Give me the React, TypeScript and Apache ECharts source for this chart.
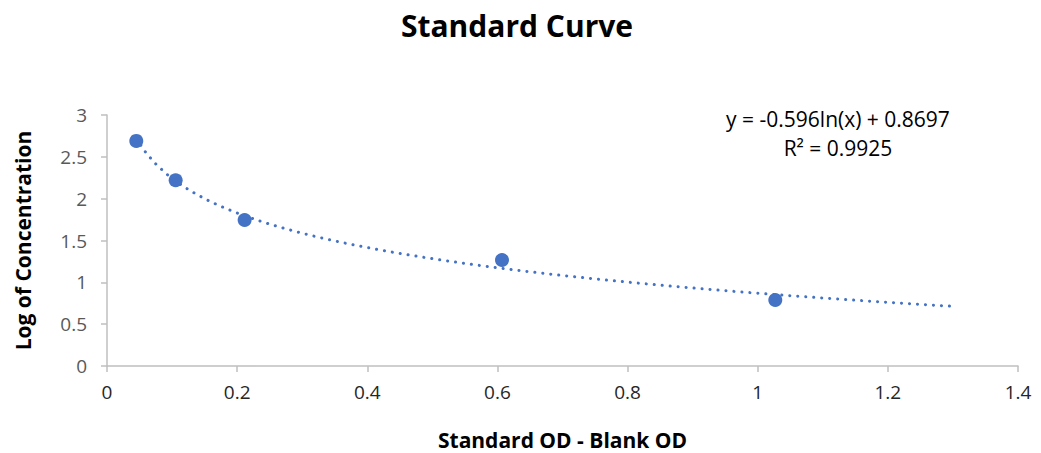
import React, { useEffect, useRef } from "react";
import * as echarts from "echarts";

// Standard OD minus blank OD, and log of concentration for each standard
const odValues = [0.045, 0.1055, 0.2115, 0.607, 1.027];
const logConc = [2.69, 2.22, 1.745, 1.267, 0.789];

// Logarithmic trendline: y = a ln(x) + b
const trendA = -0.596;
const trendB = 0.8697;
const trendStart = 0.045;
const trendEnd = 1.306;
const trendSteps = 80;

const xTicks = ["0", "0.2", "0.4", "0.6", "0.8", "1", "1.2", "1.4"];
const yTicks = ["0", "0.5", "1", "1.5", "2", "2.5", "3"];

const equationText = "y = -0.596ln(x) + 0.8697";
const rSquaredText = "R² = 0.9925";

const FONT = "'Open Sans', 'Noto Sans', sans-serif";
const BLUE = "#4472C4";

export default function App() {
  const ref = useRef<HTMLDivElement>(null);

  useEffect(() => {
    if (!ref.current) return;
    const chart = echarts.init(ref.current, undefined, { renderer: "svg" });

    const trend: number[][] = [];
    for (let i = 0; i <= trendSteps; i++) {
      const x = trendStart + ((trendEnd - trendStart) * i) / trendSteps;
      trend.push([x, trendA * Math.log(x) + trendB]);
    }

    chart.setOption({
      animation: false,
      backgroundColor: "#ffffff",
      title: {
        text: "Standard Curve",
        left: 512,
        top: 5,
        textAlign: "center",
        textStyle: { fontFamily: FONT, fontSize: 30, fontWeight: "bold", color: "#000000" },
      },
      grid: { left: 107, right: 23, top: 115, bottom: 87, outerBoundsMode: "none" },
      xAxis: {
        type: "value",
        min: 0,
        max: 1.4,
        interval: 0.2,
        name: "Standard OD - Blank OD",
        nameLocation: "middle",
        nameGap: 63,
        nameTextStyle: { fontFamily: FONT, fontSize: 21, fontWeight: "bold", color: "#000000" },
        axisLine: { lineStyle: { color: "#bfbfbf", width: 1.5 } },
        axisTick: { show: true, length: 6, lineStyle: { color: "#bfbfbf", width: 1.5 } },
        splitLine: { show: false },
        axisLabel: {
          fontFamily: FONT,
          fontSize: 19,
          color: "#262626",
          margin: 16,
          formatter: (v: number) => xTicks[Math.round(v / 0.2)] ?? "",
        },
      },
      yAxis: {
        type: "value",
        min: 0,
        max: 3,
        interval: 0.5,
        name: "Log of Concentration",
        nameLocation: "middle",
        nameGap: 74,
        nameTextStyle: { fontFamily: FONT, fontSize: 21, fontWeight: "bold", color: "#000000" },
        axisLine: { show: true, lineStyle: { color: "#bfbfbf", width: 1.5 } },
        axisTick: { show: true, length: 6, lineStyle: { color: "#bfbfbf", width: 1.5 } },
        splitLine: { show: false },
        axisLabel: {
          fontFamily: FONT,
          fontSize: 19,
          color: "#595959",
          margin: 20,
          formatter: (v: number) => yTicks[Math.round(v / 0.5)] ?? "",
        },
      },
      graphic: [
        {
          type: "text",
          x: 838,
          y: 119,
          style: {
            text: equationText,
            textAlign: "center",
            textVerticalAlign: "middle",
            fontFamily: FONT,
            fontSize: 21,
            fill: "#000000",
          },
        },
        {
          type: "text",
          x: 838,
          y: 148,
          style: {
            text: rSquaredText,
            textAlign: "center",
            textVerticalAlign: "middle",
            fontFamily: FONT,
            fontSize: 21,
            fill: "#000000",
          },
        },
      ],
      series: [
        {
          type: "line",
          data: trend,
          showSymbol: false,
          symbol: "none",
          smooth: false,
          lineStyle: { color: BLUE, width: 3, type: [0.1, 7.9], cap: "round" },
          z: 1,
        },
        {
          type: "scatter",
          data: odValues.map((x, i) => [x, logConc[i]]),
          symbol: "circle",
          symbolSize: 14,
          itemStyle: { color: BLUE, opacity: 1 },
          z: 2,
        },
      ],
    });

    return () => chart.dispose();
  }, []);

  return (
    <div
      ref={ref}
      style={{ position: "fixed", left: 0, top: 0, width: 1041, height: 453 }}
    />
  );
}
